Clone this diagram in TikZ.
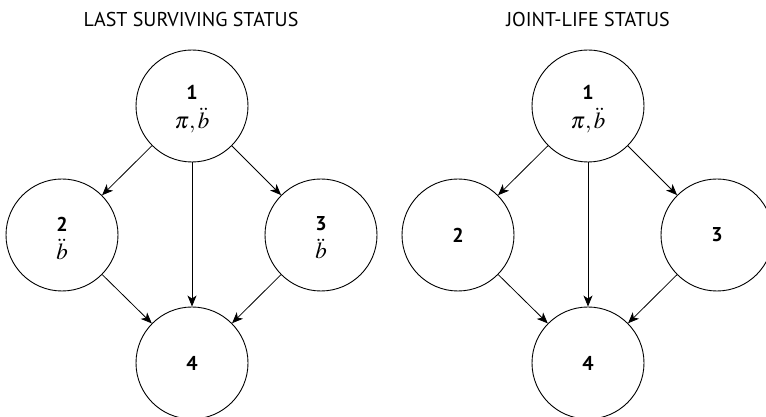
\documentclass[tikz,border=0pt]{standalone}
\usepackage{mathptmx}
\usepackage{fontspec}
\setsansfont{PT Sans}
\usetikzlibrary{arrows.meta}
\newcommand{\numf}{\sffamily\bfseries\fontsize{20}{24}\selectfont}
\newcommand{\mathf}{\normalfont\fontsize{23}{25}\selectfont}
\begin{document}
\begin{tikzpicture}[x=1pt,y=1pt,
  state/.style={circle,draw,line width=0.9pt,minimum size=112pt,inner sep=0pt},
  arr/.style={line width=0.8pt,-{Stealth[length=11pt,width=9pt,inset=3pt]}},
  title/.style={font=\sffamily\fontsize{20}{24}\selectfont},
  lab/.style={inner sep=0pt,align=center,font=\numf}]
\useasboundingbox (0,0) rectangle (766,417);
% left
\node[title] (tl) at (191,397) {LAST SURVIVING STATUS};
\node[state] (a1) at (192,311) {};
\node[state] (a2) at (62,182) {};
\node[state] (a3) at (321,182) {};
\node[state] (a4) at (192,54) {};
\node[lab] (a1t) at ([yshift=-3pt]a1.center) {\numf 1\\[5pt]\mathf$\pi,\ddot{b}$};
\node[lab] (a2t) at ([yshift=-3pt]a2.center) {\numf 2\\[4pt]\mathf$\ddot{b}$};
\node[lab] (a3t) at ([yshift=-3pt]a3.center) {\numf 3\\[4pt]\mathf$\ddot{b}$};
\node[lab] (a4t) at (a4.center) {4};
\draw[arr] (a1) -- (a2);
\draw[arr] (a1) -- (a3);
\draw[arr] (a1) -- (a4);
\draw[arr] (a2) -- (a4);
\draw[arr] (a3) -- (a4);
% right
\node[title] (tr) at (588,397) {JOINT-LIFE STATUS};
\node[state] (b1) at (588,311) {};
\node[state] (b2) at (458,182) {};
\node[state] (b3) at (717,182) {};
\node[state] (b4) at (588,54) {};
\node[lab] (b1t) at ([yshift=-3pt]b1.center) {\numf 1\\[5pt]\mathf$\pi,\ddot{b}$};
\node[lab] (b2t) at (b2.center) {2};
\node[lab] (b3t) at (b3.center) {3};
\node[lab] (b4t) at (b4.center) {4};
\draw[arr] (b1) -- (b2);
\draw[arr] (b1) -- (b3);
\draw[arr] (b1) -- (b4);
\draw[arr] (b2) -- (b4);
\draw[arr] (b3) -- (b4);
\end{tikzpicture}
\end{document}
